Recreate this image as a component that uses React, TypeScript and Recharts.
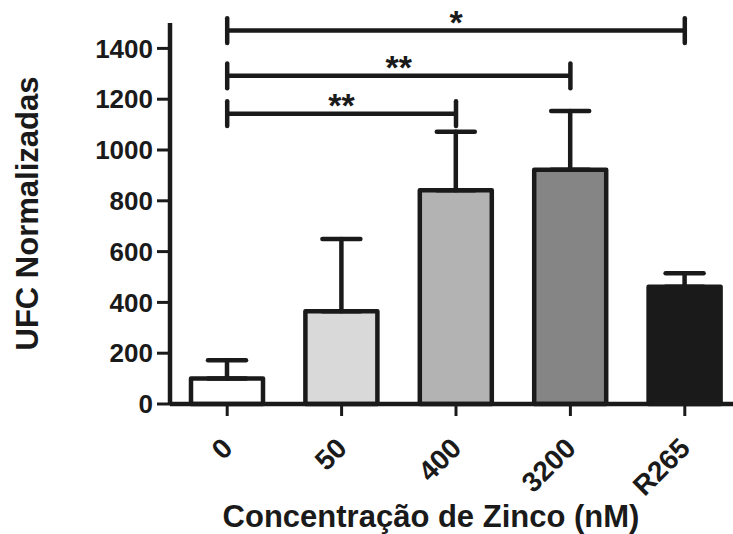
import { BarChart, Bar, XAxis, YAxis, Cell, ErrorBar, ReferenceLine } from 'recharts'

const categories = ['0', '50', '400', '3200', 'R265']
const means = [100, 365, 842, 922, 462]
const errUpper = [72, 285, 230, 232, 53]
const fills = ['#ffffff', '#d9d9d9', '#b3b3b3', '#858585', '#1a1a1a']
const yTicks = [0, 200, 400, 600, 800, 1000, 1200, 1400]

// significance brackets: from group, to group, height, label
const bracketFrom = ['0', '0', '0']
const bracketTo = ['R265', '3200', '400']
const bracketY = [1470, 1292, 1143]
const bracketText = ['*', '**', '**']
const capHalf = 49

const ink = '#1a1a1a'
const font = '"Liberation Sans", Arial, Helvetica, sans-serif'

const data = categories.map((name, i) => ({
	name,
	value: means[i],
	err: [0, errUpper[i]],
}))

function XTick({ x, y, payload }: any) {
	const ax = x + 7
	const ay = y + 34
	return (
		<text
			x={ax}
			y={ay}
			transform={`rotate(-45, ${ax}, ${ay})`}
			textAnchor='end'
			fontSize={28}
			fontWeight='bold'
			fontFamily={font}
			fill={ink}
		>
			{payload.value}
		</text>
	)
}

function XTitle({ viewBox }: any) {
	const { x, y, width, height } = viewBox
	return (
		<text
			x={x + width / 2 - 25}
			y={y + height - 7}
			textAnchor='middle'
			fontSize={31}
			fontWeight='bold'
			fontFamily={font}
			fill={ink}
		>
			Concentração de Zinco (nM)
		</text>
	)
}

function YTitle({ viewBox }: any) {
	const { x, y, height } = viewBox
	const tx = x + 38
	const ty = y + height / 2
	return (
		<text
			x={tx}
			y={ty}
			transform={`rotate(-90, ${tx}, ${ty})`}
			textAnchor='middle'
			fontSize={31}
			fontWeight='bold'
			fontFamily={font}
			fill={ink}
		>
			UFC Normalizadas
		</text>
	)
}

function StarLabel({ viewBox, value }: any) {
	const { x, y, width } = viewBox
	return (
		<text
			x={x + width / 2}
			y={y + 3}
			textAnchor='middle'
			fontSize={34}
			fontWeight='bold'
			fontFamily={font}
			fill={ink}
		>
			{value}
		</text>
	)
}

export default function App() {
	return (
		<div
			style={{
				position: 'absolute',
				left: 0,
				top: 0,
				width: 733,
				height: 534,
				overflow: 'hidden',
				background: '#fff',
			}}
		>
			<BarChart
				width={750}
				height={534}
				data={data}
				margin={{ top: 23, right: 8, left: 0, bottom: 0 }}
				barSize={72}
			>
				<XAxis
					dataKey='name'
					height={130}
					interval={0}
					axisLine={{ stroke: ink, strokeWidth: 4.5 }}
					tickLine={{ stroke: ink, strokeWidth: 3 }}
					tickSize={12}
					tickMargin={0}
					tick={<XTick />}
					label={{ content: <XTitle /> }}
				/>
				<YAxis
					width={170}
					domain={[0, 1500]}
					ticks={yTicks}
					interval={0}
					axisLine={{ stroke: ink, strokeWidth: 4.5 }}
					tickLine={{ stroke: ink, strokeWidth: 3 }}
					tickSize={13}
					tickMargin={4}
					tick={{ fontSize: 26, fontWeight: 'bold', fill: ink, fontFamily: font }}
					label={{ content: <YTitle /> }}
				/>
				<Bar
					dataKey='value'
					stroke={ink}
					strokeWidth={4.5}
					strokeLinejoin='round'
					isAnimationActive={false}
				>
					{data.map((d, i) => (
						<Cell key={d.name} fill={fills[i]} />
					))}
					<ErrorBar
						dataKey='err'
						direction='y'
						width={19}
						stroke={ink}
						strokeWidth={4.5}
						strokeLinecap='round'
						isAnimationActive={false}
					/>
				</Bar>
				{bracketY.map((yv, i) => (
					<ReferenceLine
						key={'h' + i}
						ifOverflow='visible'
						stroke={ink}
						strokeWidth={4.5}
						segment={[
							{ x: bracketFrom[i], y: yv },
							{ x: bracketTo[i], y: yv },
						]}
						label={{ value: bracketText[i], content: <StarLabel value={bracketText[i]} /> }}
					/>
				))}
				{bracketY.map((yv, i) => (
					<ReferenceLine
						key={'l' + i}
						ifOverflow='visible'
						stroke={ink}
						strokeWidth={4.5}
						strokeLinecap='round'
						segment={[
							{ x: bracketFrom[i], y: yv - capHalf },
							{ x: bracketFrom[i], y: yv + capHalf },
						]}
					/>
				))}
				{bracketY.map((yv, i) => (
					<ReferenceLine
						key={'r' + i}
						ifOverflow='visible'
						stroke={ink}
						strokeWidth={4.5}
						strokeLinecap='round'
						segment={[
							{ x: bracketTo[i], y: yv - capHalf },
							{ x: bracketTo[i], y: yv + capHalf },
						]}
					/>
				))}
			</BarChart>
		</div>
	)
}
